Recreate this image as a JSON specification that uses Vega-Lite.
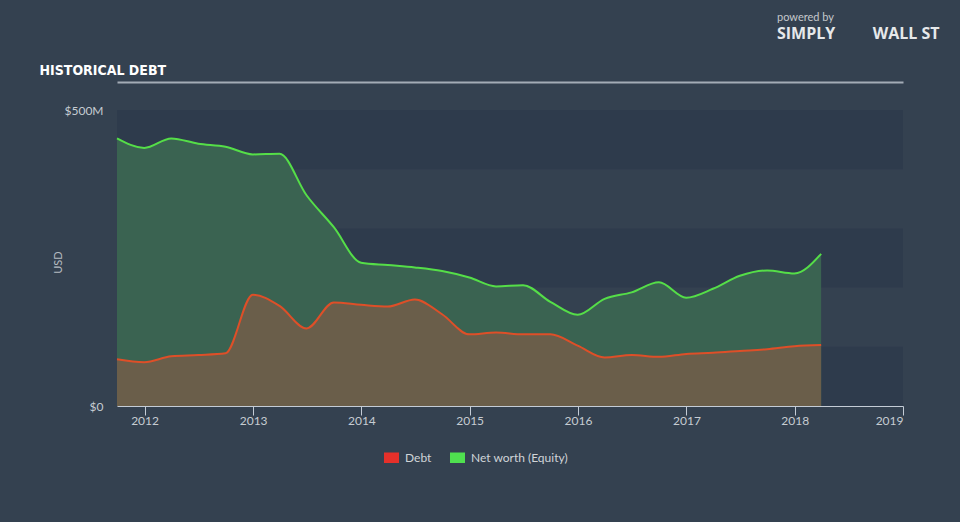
{
  "$schema": "https://vega.github.io/schema/vega-lite/v6.json",
  "width": 786,
  "height": 296,
  "autosize": {"type": "none"},
  "padding": {"left": 117, "top": 110, "right": 57, "bottom": 116},
  "background": "#344150",
  "config": {"view": {"stroke": null}, "font": "Lato"},
  "title": {
    "text": "powered by",
    "subtitle": "SIMPLY\u00a0\u00a0\u00a0\u00a0\u00a0\u00a0\u00a0\u00a0\u00a0WALL ST",
    "anchor": "end",
    "frame": "group",
    "align": "left",
    "dx": -126,
    "font": "Lato",
    "fontSize": 11,
    "fontWeight": "normal",
    "color": "#c4c8cc",
    "subtitleFont": "Open Sans",
    "subtitleFontSize": 16,
    "subtitleFontWeight": "bold",
    "subtitleColor": "#e6e8ea",
    "subtitlePadding": 3,
    "offset": 21
  },
  "datasets": {
    "bands": [
      {"lo": 0, "hi": 100},
      {"lo": 200, "hi": 300},
      {"lo": 400, "hi": 500}
    ],
    "main": [
      {"date": "2011-09-30", "debt": 79, "equity": 452},
      {"date": "2011-12-31", "debt": 74, "equity": 436},
      {"date": "2012-03-31", "debt": 84, "equity": 452},
      {"date": "2012-06-30", "debt": 86, "equity": 443},
      {"date": "2012-09-30", "debt": 89, "equity": 438},
      {"date": "2012-12-31", "debt": 188, "equity": 425},
      {"date": "2013-03-31", "debt": 169, "equity": 426},
      {"date": "2013-06-30", "debt": 131, "equity": 356},
      {"date": "2013-09-30", "debt": 175, "equity": 302},
      {"date": "2013-12-31", "debt": 171, "equity": 242},
      {"date": "2014-03-31", "debt": 168, "equity": 238},
      {"date": "2014-06-30", "debt": 180, "equity": 234},
      {"date": "2014-09-30", "debt": 155, "equity": 228},
      {"date": "2014-12-31", "debt": 121, "equity": 217},
      {"date": "2015-03-31", "debt": 124, "equity": 202},
      {"date": "2015-06-30", "debt": 121, "equity": 204},
      {"date": "2015-09-30", "debt": 121, "equity": 176},
      {"date": "2015-12-31", "debt": 102, "equity": 154},
      {"date": "2016-03-31", "debt": 82, "equity": 181},
      {"date": "2016-06-30", "debt": 86, "equity": 192},
      {"date": "2016-09-30", "debt": 83, "equity": 209},
      {"date": "2016-12-31", "debt": 88, "equity": 183},
      {"date": "2017-03-31", "debt": 90, "equity": 198},
      {"date": "2017-06-30", "debt": 93, "equity": 220},
      {"date": "2017-09-30", "debt": 96, "equity": 229},
      {"date": "2017-12-31", "debt": 101, "equity": 224},
      {"date": "2018-03-31", "debt": 103, "equity": 257}
    ],
    "legend": [
      {"series": "Debt"},
      {"series": "Net worth (Equity)"}
    ]
  },
  "layer": [
    {
      "data": {"name": "bands"},
      "mark": {"type": "rect", "color": "#2e3b4c"},
      "encoding": {
        "y": {
          "field": "lo",
          "type": "quantitative",
          "scale": {"domain": [0, 500], "nice": false},
          "axis": {
            "values": [0, 500],
            "labelExpr": "datum.value == 0 ? '$0' : '$' + datum.value + 'M'",
            "domain": false,
            "ticks": false,
            "grid": false,
            "labelFlush": false,
            "labelColor": "#c6ccd2",
            "labelFontSize": 12,
            "labelPadding": 14,
            "title": "USD",
            "titleColor": "#b4bac0",
            "titleFontSize": 11,
            "titleFontWeight": "normal",
            "titleX": -54,
            "titleY": 152
          }
        },
        "y2": {"field": "hi"}
      }
    },
    {
      "data": {"name": "main"},
      "mark": {"type": "area", "interpolate": "monotone", "color": "#3b6452", "opacity": 0.97},
      "encoding": {
        "x": {
          "field": "date",
          "type": "temporal",
          "scale": {
            "type": "utc",
            "domain": [
              {"year": 2011, "month": 9, "date": 30, "utc": true},
              {"year": 2019, "month": 1, "date": 1, "utc": true}
            ]
          },
          "axis": {
            "orient": "bottom",
            "values": [
              {"year": 2012, "utc": true},
              {"year": 2013, "utc": true},
              {"year": 2014, "utc": true},
              {"year": 2015, "utc": true},
              {"year": 2016, "utc": true},
              {"year": 2017, "utc": true},
              {"year": 2018, "utc": true},
              {"year": 2019, "utc": true}
            ],
            "format": "%Y",
            "domainColor": "#c4ccd6",
            "tickColor": "#c4ccd6",
            "tickSize": 9,
            "labelColor": "#c6ccd2",
            "labelFontSize": 12,
            "labelPadding": 0,
            "labelFlush": true,
            "grid": false,
            "title": null
          }
        },
        "y": {"field": "equity", "type": "quantitative"}
      }
    },
    {
      "data": {"name": "main"},
      "mark": {"type": "area", "interpolate": "monotone", "color": "#6a5e4a"},
      "encoding": {
        "x": {"field": "date", "type": "temporal", "axis": null},
        "y": {"field": "debt", "type": "quantitative"}
      }
    },
    {
      "data": {"name": "main"},
      "mark": {"type": "line", "interpolate": "monotone", "color": "#55de48", "strokeWidth": 2},
      "encoding": {
        "x": {
          "field": "date",
          "type": "temporal",
          "axis": {
            "orient": "top",
            "offset": 28,
            "labels": false,
            "ticks": false,
            "grid": false,
            "domainColor": "#a3acb6",
            "domainWidth": 2,
            "title": "HISTORICAL DEBT",
            "titleColor": "#ffffff",
            "titleFont": "DejaVu Sans Condensed, Liberation Sans Narrow, sans-serif",
            "titleFontSize": 14,
            "titleFontWeight": "bold",
            "titleAlign": "left",
            "titleBaseline": "alphabetic",
            "titleX": -78,
            "titleY": -8
          }
        },
        "y": {"field": "equity", "type": "quantitative"}
      }
    },
    {
      "data": {"name": "main"},
      "mark": {"type": "line", "interpolate": "monotone", "color": "#de4f28", "strokeWidth": 2},
      "encoding": {
        "x": {"field": "date", "type": "temporal", "axis": null},
        "y": {"field": "debt", "type": "quantitative"}
      }
    },
    {
      "data": {"name": "legend"},
      "mark": {"type": "square", "opacity": 0},
      "encoding": {
        "color": {
          "field": "series",
          "type": "nominal",
          "scale": {"domain": ["Debt", "Net worth (Equity)"], "range": ["#e5302a", "#4fe04f"]},
          "legend": {
            "title": null,
            "orient": "none",
            "direction": "horizontal",
            "legendX": 267,
            "legendY": 340,
            "symbolType": "M-1,-0.7H1V0.7H-1Z",
            "symbolSize": 225,
            "symbolOpacity": 1,
            "symbolStrokeWidth": 0,
            "labelColor": "#d0d4d8",
            "labelFontSize": 12,
            "labelOffset": 6,
            "columnPadding": 18
          }
        }
      }
    }
  ],
  "resolve": {"axis": {"x": "independent"}}
}
